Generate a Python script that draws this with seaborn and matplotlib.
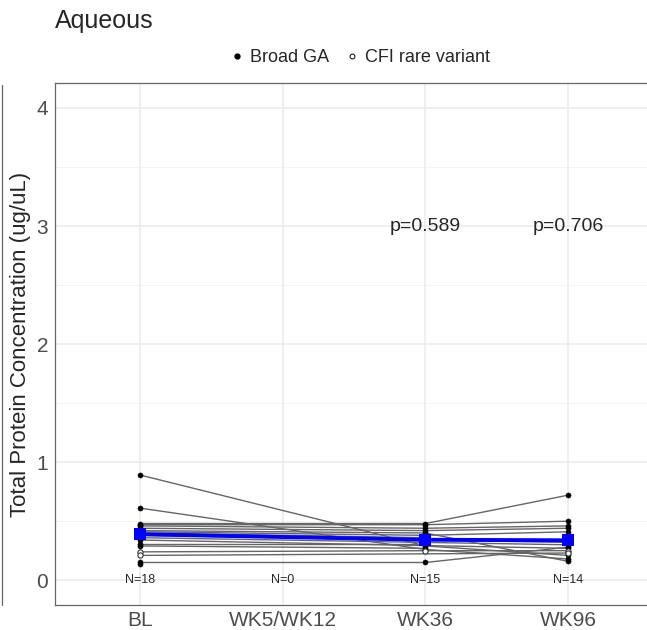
import numpy as np
import pandas as pd
import seaborn as sns
import matplotlib.pyplot as plt
from matplotlib.lines import Line2D

# visits on the x axis
visits = ["BL", "WK5/WK12", "WK36", "WK96"]

# per-subject values (NaN = no sample at that visit)
bl = [0.89, 0.61, 0.48, 0.47, 0.46, 0.44, 0.42, 0.41, 0.40,
      0.38, 0.36, 0.34, 0.31, 0.29, 0.24, 0.21, 0.15, 0.14]
wk5_12 = [np.nan] * 18
wk36 = [0.29, 0.26, 0.48, 0.47, 0.44, 0.42, 0.40, 0.38, 0.36,
        0.34, 0.32, np.nan, 0.31, 0.27, 0.25, np.nan, 0.15, np.nan]
wk96 = [0.21, 0.18, 0.72, 0.50, 0.46, 0.44, 0.16, 0.41, np.nan,
        0.32, 0.30, 0.27, np.nan, np.nan, 0.25, 0.23, 0.28, np.nan]
group = ["Broad GA"] * 14 + ["CFI rare variant"] * 2 + ["Broad GA"] * 2

p_labels = {"WK36": "p=0.589", "WK96": "p=0.706"}

# long format
rows = []
for i in range(len(bl)):
    for v, vals in zip(visits, [bl, wk5_12, wk36, wk96]):
        rows.append({"subject": i, "visit": v, "x": visits.index(v),
                     "value": vals[i], "group": group[i]})
df = pd.DataFrame(rows).dropna(subset=["value"])

sns.set_style("white")
plt.rcParams["font.family"] = ["Liberation Sans", "DejaVu Sans"]

fig = plt.figure(figsize=(6.47, 6.30), dpi=100)
# panel runs past the right edge of the picture (cropped)
ax = fig.add_axes([0.085, 0.0397, 0.925, 0.8283])

# grid
for y in [0.5, 1.5, 2.5, 3.5]:
    ax.axhline(y, color="#f2f2f2", lw=0.6, zorder=0)
for y in [0, 1, 2, 3, 4]:
    ax.axhline(y, color="#ebebeb", lw=1.1, zorder=0)
for x in range(4):
    ax.axvline(x, color="#ebebeb", lw=1.1, zorder=0)

# subject trajectories
sns.lineplot(data=df, x="x", y="value", units="subject", estimator=None,
             color="#666666", lw=1.0, ax=ax, legend=False, zorder=2)

broad = df[df["group"] == "Broad GA"]
cfi = df[df["group"] == "CFI rare variant"]
sns.scatterplot(data=broad, x="x", y="value", color="black", s=14,
                edgecolor="black", linewidth=0.3, ax=ax, zorder=3, legend=False)
ax.scatter(cfi["x"], cfi["value"], s=14, facecolor="white",
           edgecolor="#333333", linewidth=0.8, zorder=3)

# mean line
means = df.groupby("x", as_index=False)["value"].mean()
sns.lineplot(data=means, x="x", y="value", color="blue", lw=2.8,
             marker="s", markersize=9, markeredgewidth=0, ax=ax, zorder=4)

# N counts
for k, v in enumerate(visits):
    n = int((df["visit"] == v).sum())
    ax.text(k, 0, f"N={n}", ha="center", va="center", fontsize=9, zorder=5)

for v, lab in p_labels.items():
    ax.text(visits.index(v), 3.0, lab, ha="center", va="center", fontsize=14)

ax.set_xlim(-0.6, 3.6)
ax.set_ylim(-0.21, 4.21)
ax.set_xticks(range(4))
ax.set_xticklabels(visits)
ax.set_yticks([0, 1, 2, 3, 4])
ax.tick_params(axis="both", colors="#4d4d4d", labelsize=15, length=3,
               width=0.8, direction="out", labelcolor="#4d4d4d")
ax.tick_params(axis="x", pad=1)
ax.tick_params(axis="y", pad=2)
ax.set_xlabel(None)
ax.set_ylabel("Total Protein Concentration (ug/uL)", fontsize=16, labelpad=4)
for s in ax.spines.values():
    s.set_color("#666666")
    s.set_linewidth(0.9)

fig.text(0.085, 0.967, "Aqueous", fontsize=18, ha="left", va="center")

# legend
handles = [Line2D([], [], marker="o", ls="", color="black", markersize=3.5),
           Line2D([], [], marker="o", ls="", markerfacecolor="white",
                  markeredgecolor="black", markersize=3.5, markeredgewidth=0.7)]
fig.legend(handles, ["Broad GA", "CFI rare variant"], loc="center",
           bbox_to_anchor=(0.555, 0.908), ncol=2, frameon=False, fontsize=13,
           handletextpad=0.2, columnspacing=0.8, handlelength=1.0)

# edge of neighbouring panel on the left
fig.add_artist(Line2D([0.003, 0.003], [0.04, 0.865], color="#666666", lw=0.9))

fig.savefig("out.png", dpi=100)
